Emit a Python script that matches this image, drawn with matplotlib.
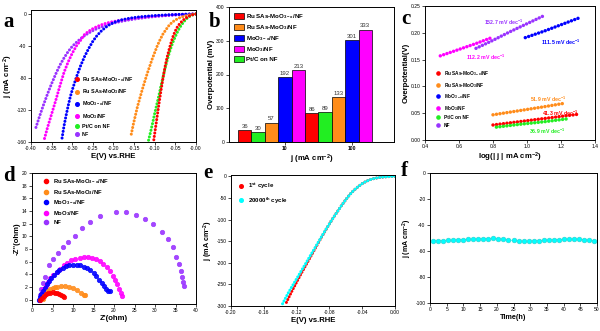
import numpy as np
import matplotlib
matplotlib.use('Agg')
from matplotlib import pyplot as plt
from matplotlib.lines import Line2D

plt.rcParams['font.family'] = ['Liberation Sans', 'DejaVu Sans']
plt.rcParams['mathtext.fontset'] = 'custom'
plt.rcParams['mathtext.rm'] = 'Liberation Sans:bold'
plt.rcParams['mathtext.it'] = 'Liberation Sans:bold'
plt.rcParams['mathtext.bf'] = 'Liberation Sans:bold'
plt.rcParams['mathtext.default'] = 'rm'
plt.rcParams['axes.unicode_minus'] = False

RED, ORANGE, BLUE = '#ff0000', '#ff8c1a', '#0000ff'
MAGENTA, GREEN, PURPLE, CYAN = '#ff00ff', '#22ee22', '#9933ff', '#00ffff'

lab_ru_x = 'Ru SAs-MoO$_{3-x}$/NF'
lab_ru = 'Ru SAs-MoO$_3$/NF'
lab_mo_x = 'MoO$_{3-x}$/NF'
lab_mo = 'MoO$_3$/NF'
lab_pt = 'Pt/C on NF'
lab_nf = 'NF'

# ---- (a) HER polarisation curves : E (V vs RHE), j (mA cm-2)
a_ru_x_E = [0.000, -0.005, -0.010, -0.015, -0.020, -0.025, -0.030, -0.035, -0.040, -0.045, -0.050,
            -0.055, -0.060, -0.065, -0.070, -0.075, -0.080, -0.085, -0.090, -0.095, -0.100, -0.103]
a_ru_x_j = [0, -0.5, -1.2, -2.3, -3.6, -5.2, -7.2, -9.6, -12.5, -16, -21,
            -27, -35, -44, -54, -66, -80, -96, -113, -131, -149, -160]
a_pt_E = [0.000, -0.005, -0.010, -0.015, -0.020, -0.025, -0.030, -0.035, -0.040, -0.045, -0.050, -0.055,
          -0.060, -0.065, -0.070, -0.075, -0.080, -0.085, -0.090, -0.095, -0.100, -0.105, -0.110, -0.116]
a_pt_j = [0, -0.6, -1.5, -2.8, -4.6, -7, -10, -13.5, -17.5, -22.5, -28, -34,
          -41, -49, -58, -68, -79, -90, -102, -113, -124, -136, -147, -160]
a_ru_E = [0.000, -0.010, -0.020, -0.030, -0.040, -0.050, -0.057, -0.065, -0.072, -0.080, -0.087, -0.094,
          -0.100, -0.106, -0.112, -0.118, -0.124, -0.130, -0.136, -0.142, -0.147, -0.152, -0.158]
a_ru_j = [0, -0.6, -1.6, -3.0, -4.8, -7.5, -10, -14, -19, -25, -32, -40,
          -48, -56, -65, -74, -84, -94, -105, -116, -127, -138, -153]
a_mo_x_E = [0.00, -0.02, -0.04, -0.06, -0.08, -0.10, -0.12, -0.14, -0.16, -0.18, -0.19, -0.20, -0.21,
            -0.22, -0.23, -0.24, -0.25, -0.26, -0.27, -0.28, -0.29, -0.30, -0.305, -0.31, -0.315, -0.32, -0.325]
a_mo_x_j = [0, -0.2, -0.5, -0.9, -1.4, -2.0, -2.8, -3.8, -5.2, -7.3, -8.8, -10.8, -13.5,
            -17, -21.5, -27, -34, -43, -53, -65, -79, -95, -104, -115, -127, -140, -156]
a_mo_E = [0.00, -0.02, -0.04, -0.06, -0.08, -0.10, -0.12, -0.14, -0.16, -0.18, -0.20, -0.21, -0.22, -0.23,
          -0.24, -0.25, -0.26, -0.27, -0.28, -0.29, -0.30, -0.31, -0.32, -0.33, -0.34, -0.35, -0.36, -0.368]
a_mo_j = [0, -0.3, -0.7, -1.2, -1.8, -2.6, -3.5, -4.6, -6.0, -7.6, -9.4, -10.5, -11.9, -13.6,
          -15.7, -18.3, -21.5, -25.5, -33, -40, -49, -60, -73, -90, -108, -125, -142, -157]
a_nf_E = [0.00, -0.02, -0.04, -0.06, -0.08, -0.10, -0.12, -0.14, -0.16, -0.18, -0.20, -0.21, -0.22, -0.23,
          -0.24, -0.25, -0.26, -0.27, -0.28, -0.29, -0.30, -0.31, -0.32, -0.33, -0.34, -0.35, -0.36, -0.37,
          -0.38, -0.39]
a_nf_j = [0, -0.4, -0.9, -1.5, -2.3, -3.2, -4.3, -5.6, -7.2, -9.1, -11.4, -12.8, -14.4, -16.2,
          -18.3, -20.8, -23.7, -27, -31, -35.5, -40.5, -47, -55, -64, -75, -87, -100, -114,
          -129, -145]

# ---- (b) overpotentials at 10 and 100 mA cm-2
b_groups = ['10', '100']
b_ru_x = [36, 86]
b_pt = [30, 89]
b_ru = [57, 133]
b_mo_x = [192, 301]
b_mo = [213, 333]

# ---- (c) Tafel plots : log|j|, overpotential (V)
c_ru_x_x = [0.80, 0.90, 1.00, 1.10, 1.20, 1.30]
c_ru_x_y = [0.028, 0.032, 0.036, 0.040, 0.044, 0.048]
c_ru_x = [0.80, 0.90, 1.00, 1.10, 1.21]
c_ru_y = [0.047, 0.052, 0.057, 0.062, 0.068]
c_mo_x_x = [0.99, 1.10, 1.20, 1.30]
c_mo_x_y = [0.191, 0.203, 0.215, 0.227]
c_mo_x = [0.49, 0.60, 0.70, 0.80]
c_mo_y = [0.157, 0.169, 0.180, 0.192]
c_pt_x = [0.82, 0.95, 1.10, 1.25]
c_pt_y = [0.024, 0.029, 0.034, 0.040]
c_nf_x = [0.70, 0.80, 0.90, 1.00, 1.10]
c_nf_y = [0.171, 0.186, 0.202, 0.217, 0.232]
c_slopes = ['41.3', '51.9', '111.5', '112.2', '36.9', '152.7']

# ---- (d) Nyquist plots : Z', -Z'' (ohm)
d_ru_x_re = [2.0, 2.5, 3.0, 3.5, 4.0, 4.5, 5.0, 5.5, 6.0, 6.5, 7.0, 7.5, 7.8]
d_ru_x_im = [0.0, 0.3, 0.6, 0.85, 1.0, 1.1, 1.15, 1.1, 1.05, 0.9, 0.75, 0.55, 0.4]
d_ru_re = [2.6, 3.0, 3.5, 4.0, 4.5, 5.0, 5.5, 6.0, 7.0, 8.0, 9.0, 10.0, 11.0, 12.0, 12.7, 13.0]
d_ru_im = [0.1, 0.5, 0.9, 1.3, 1.6, 1.8, 1.95, 2.05, 2.1, 2.1, 1.95, 1.75, 1.45, 1.1, 0.8, 0.65]
d_mo_x_re = [1.8, 2.0, 2.3, 2.7, 3.1, 3.6, 4.1, 4.7, 5.3, 6.0, 6.7, 7.5, 8.3, 9.1, 10.0, 10.9, 11.8,
             12.6, 13.4, 14.2, 15.0, 15.7, 16.4, 17.0, 17.6, 18.1, 18.6, 19.0]
d_mo_x_im = [0.0, 0.4, 0.9, 1.4, 1.9, 2.4, 2.9, 3.4, 3.9, 4.3, 4.7, 5.0, 5.25, 5.4, 5.5, 5.5, 5.4,
             5.2, 4.95, 4.6, 4.15, 3.65, 3.1, 2.6, 2.1, 1.7, 1.4, 1.3]
d_mo_re = [1.9, 2.1, 2.4, 2.8, 3.3, 3.9, 4.5, 5.2, 6.0, 6.8, 7.7, 8.6, 9.6, 10.6, 11.6, 12.6, 13.6,
           14.6, 15.6, 16.5, 17.4, 18.2, 19.0, 19.7, 20.3, 20.8, 21.3, 21.7, 22.0]
d_mo_im = [0.0, 0.5, 1.0, 1.6, 2.2, 2.8, 3.4, 3.9, 4.4, 4.9, 5.4, 5.8, 6.2, 6.45, 6.6, 6.7, 6.7,
           6.6, 6.4, 6.1, 5.6, 5.1, 4.5, 3.8, 3.1, 2.4, 1.7, 1.1, 0.6]
d_nf_re = [1.8, 2.0, 2.3, 2.7, 3.2, 4.1, 5.1, 6.3, 7.6, 8.8, 10.4, 12.3, 14.2, 16.5, 20.6, 23.0,
           25.4, 27.5, 29.5, 31.7, 33.2, 34.4, 35.2, 35.8, 36.3, 36.7, 36.9, 37.1]
d_nf_im = [0.0, 0.8, 1.6, 2.6, 3.5, 5.5, 6.4, 7.3, 8.3, 9.1, 10.0, 11.3, 12.3, 13.2, 13.8, 13.8,
           13.4, 12.8, 11.9, 10.7, 9.6, 8.3, 6.8, 5.6, 4.5, 3.6, 2.7, 2.1]

# ---- (e) polarisation before / after cycling
e_cyc1_E = [0.000, -0.005, -0.010, -0.015, -0.020, -0.025, -0.030, -0.035, -0.040, -0.045, -0.050,
            -0.055, -0.060, -0.065, -0.070, -0.075, -0.080, -0.085, -0.090, -0.095, -0.100, -0.105,
            -0.110, -0.115, -0.120, -0.125, -0.130, -0.134]
e_cyc1_j = [0, -0.4, -1.0, -1.8, -3.0, -4.8, -7.5, -11.5, -17, -24, -32,
            -42, -54, -67, -81, -95, -110, -126, -142, -159, -176, -193,
            -210, -227, -245, -263, -282, -298]
e_cyc2_E = [0.000, -0.005, -0.010, -0.015, -0.020, -0.025, -0.030, -0.035, -0.040, -0.045, -0.050,
            -0.055, -0.060, -0.065, -0.070, -0.075, -0.080, -0.085, -0.090, -0.095, -0.100, -0.105,
            -0.110, -0.115, -0.120, -0.125, -0.130, -0.135, -0.138]
e_cyc2_j = [0, -0.4, -1.0, -1.8, -3.0, -4.8, -7.5, -11.5, -17, -24, -32,
            -42, -54, -67, -81, -95, -110, -125, -141, -157, -173, -189,
            -205, -221, -237, -253, -269, -287, -298]

# ---- (f) chronoamperometry
f_t = [1, 2.5, 4, 5.5, 7, 8.5, 10, 11.5, 13, 14.5, 16, 17.5, 19, 20.5, 22, 23.5, 25, 26.5,
       28, 29.5, 31, 32.5, 34, 35.5, 37, 38.5, 40, 41.5, 43, 44.5, 46, 47.5, 49]
f_j = [-52.2, -52.1, -52.0, -51.8, -51.6, -51.4, -51.2, -51.0, -50.8, -50.7, -50.6, -50.4, -50.3,
       -50.6, -51.0, -51.5, -51.9, -52.2, -52.5, -52.4, -52.2, -52.0, -51.8, -51.6, -51.4, -51.2,
       -51.0, -50.9, -50.8, -50.9, -51.2, -51.7, -52.2]

TICK = 3.6
LAB = 5.6


def style(ax):
    for s in ax.spines.values():
        s.set_linewidth(0.7)
    ax.tick_params(labelsize=TICK, length=2, width=0.5, pad=1.2, direction='out')


def dots(ax, x, y, color, lw=2.2, gap=1.1):
    # dense measured points drawn as a round-dotted trace
    ax.plot(x, y, color=color, lw=lw, linestyle=(0, (0.01, gap)), dash_capstyle='round')


def dot_handles(colors, labels, ms=2.6):
    return [Line2D([], [], ls='none', marker='o', ms=ms, color=c, label=l)
            for c, l in zip(colors, labels)]


fig = plt.figure(figsize=(6, 3.31), dpi=100)
W, H = 600, 331


def axes_px(left, top, right, bottom):
    return fig.add_axes([left / W, 1 - bottom / H, (right - left) / W, (bottom - top) / H])


ax_a = axes_px(31, 10, 196, 142)
ax_b = axes_px(229, 7, 394, 142)
ax_c = axes_px(425, 6, 595, 140)
ax_d = axes_px(32, 173, 196, 304)
ax_e = axes_px(231, 175, 395, 306)
ax_f = axes_px(430, 173, 597, 303)

# (a)
style(ax_a)
for E, j, c in [(a_nf_E, a_nf_j, PURPLE), (a_mo_E, a_mo_j, MAGENTA), (a_mo_x_E, a_mo_x_j, BLUE),
                (a_ru_E, a_ru_j, ORANGE), (a_pt_E, a_pt_j, GREEN), (a_ru_x_E, a_ru_x_j, RED)]:
    dots(ax_a, E, j, c)
ax_a.set_xlim(-0.40, 0.0)
ax_a.set_ylim(-160, 5)
ax_a.set_xticks(np.arange(-0.40, 0.001, 0.05))
ax_a.set_yticks([0, -40, -80, -120, -160])
ax_a.xaxis.set_major_formatter(plt.FormatStrFormatter('%.2f'))
ax_a.set_xlabel('E(V) vs.RHE', fontsize=LAB, fontweight='bold', labelpad=1)
ax_a.set_ylabel('j (mA cm$^{-2}$)', fontsize=LAB, fontweight='bold', labelpad=1)
ax_a.legend(handles=dot_handles([RED, ORANGE, BLUE, MAGENTA, GREEN, PURPLE],
                                [lab_ru_x, lab_ru, lab_mo_x, lab_mo, lab_pt, lab_nf]),
            loc='lower left', bbox_to_anchor=(0.23, 0.0), frameon=False,
            prop={'size': 3.9, 'weight': 'bold'}, handletextpad=0.5, labelspacing=0.6,
            handlelength=1.0)

# (b)
style(ax_b)
bw = 0.2
xg = np.arange(1, len(b_groups) + 1)
for k, (vals, c, l) in enumerate([(b_ru_x, RED, lab_ru_x), (b_pt, GREEN, lab_pt), (b_ru, ORANGE, lab_ru),
                                  (b_mo_x, BLUE, lab_mo_x), (b_mo, MAGENTA, lab_mo)]):
    bars = ax_b.bar(xg + (k - 3) * bw, vals, bw, color=c, edgecolor='black', lw=0.5, label=l)
    for r, v in zip(bars, vals):
        ax_b.text(r.get_x() + r.get_width() / 2, v + 4, str(v), ha='center', va='bottom',
                  fontsize=4.3, color='#333333')
ax_b.set_xlim(0.164, 2.63)
ax_b.set_ylim(0, 400)
ax_b.set_xticks(xg)
ax_b.set_xticklabels(b_groups, fontweight='bold')
ax_b.set_yticks([0, 100, 200, 300, 400])
ax_b.set_xlabel('j (mA cm$^{-2}$)', fontsize=LAB, fontweight='bold', labelpad=1)
ax_b.set_ylabel('Overpotential (mV)', fontsize=LAB, fontweight='bold', labelpad=1)
hb, lb = ax_b.get_legend_handles_labels()
order = [0, 2, 3, 4, 1]
ax_b.legend([hb[i] for i in order], [lb[i] for i in order], loc='upper left', frameon=False,
            prop={'size': 4.4, 'weight': 'bold'}, handlelength=1.6, handleheight=1.1,
            handletextpad=0.4, labelspacing=0.35, borderaxespad=0.4)

# (c)
style(ax_c)
c_series = [(c_ru_x_x, c_ru_x_y, RED), (c_ru_x, c_ru_y, ORANGE), (c_mo_x_x, c_mo_x_y, BLUE),
            (c_mo_x, c_mo_y, MAGENTA), (c_pt_x, c_pt_y, GREEN), (c_nf_x, c_nf_y, PURPLE)]
for x, y, c in c_series:
    dots(ax_c, x, y, c, lw=2.5, gap=1.0)
slope_pos = [(1.09, 0.050), (1.02, 0.076), (1.08, 0.183), (0.64, 0.154), (1.01, 0.0155), (0.75, 0.219)]
for (x, y), s, (_, _, c) in zip(slope_pos, c_slopes, c_series):
    ax_c.text(x, y, s + ' mV dec$^{-1}$', fontsize=3.8, color=c, fontweight='bold', va='center')
ax_c.set_xlim(0.4, 1.4)
ax_c.set_ylim(0, 0.25)
ax_c.set_xticks([0.4, 0.6, 0.8, 1.0, 1.2, 1.4])
ax_c.set_yticks([0, 0.05, 0.10, 0.15, 0.20, 0.25])
ax_c.xaxis.set_major_formatter(plt.FormatStrFormatter('%.1f'))
ax_c.yaxis.set_major_formatter(plt.FormatStrFormatter('%.2f'))
ax_c.set_xlabel('log(| j | mA cm$^{-2}$)', fontsize=LAB, fontweight='bold', labelpad=1)
ax_c.set_ylabel('Overpotential(V)', fontsize=LAB, fontweight='bold', labelpad=1)
ax_c.legend(handles=dot_handles([RED, ORANGE, BLUE, MAGENTA, GREEN, PURPLE],
                                [lab_ru_x, lab_ru, lab_mo_x, lab_mo, lab_pt, lab_nf], ms=2.3),
            loc='lower left', bbox_to_anchor=(0.04, 0.06), frameon=False,
            prop={'size': 3.4, 'weight': 'bold'}, handletextpad=0.6, labelspacing=0.55,
            handlelength=1.0)

# (d)
style(ax_d)
for re, im, c in [(d_nf_re, d_nf_im, PURPLE), (d_mo_re, d_mo_im, MAGENTA), (d_mo_x_re, d_mo_x_im, BLUE),
                  (d_ru_re, d_ru_im, ORANGE), (d_ru_x_re, d_ru_x_im, RED)]:
    ax_d.plot(re, im, ls='none', marker='o', ms=3.2, mfc=c, mec=c, mew=0.5, alpha=0.9)
ax_d.set_xlim(0, 40)
ax_d.set_ylim(-0.7, 20)
ax_d.set_xticks(np.arange(0, 41, 5))
ax_d.set_yticks(np.arange(0, 21, 2))
ax_d.set_xlabel("Z'(ohm)", fontsize=LAB, fontweight='bold', labelpad=1)
ax_d.set_ylabel("-Z''(ohm)", fontsize=LAB, fontweight='bold', labelpad=1)
ax_d.legend(handles=dot_handles([RED, ORANGE, BLUE, MAGENTA, PURPLE],
                                [lab_ru_x, lab_ru, lab_mo_x, lab_mo, lab_nf], ms=3.0),
            loc='upper left', frameon=False, prop={'size': 4.2, 'weight': 'bold'},
            handletextpad=0.6, labelspacing=0.3, handlelength=1.2, borderaxespad=0.3,
            bbox_to_anchor=(0.04, 1.0))

# (e)
style(ax_e)
dots(ax_e, e_cyc1_E, e_cyc1_j, RED, gap=1.0)
dots(ax_e, e_cyc2_E, e_cyc2_j, CYAN, gap=1.0)
ax_e.set_xlim(-0.20, 0.0)
ax_e.set_ylim(-300, 3)
ax_e.set_xticks([-0.20, -0.16, -0.12, -0.08, -0.04, 0.0])
ax_e.set_yticks(np.arange(0, -301, -50))
ax_e.xaxis.set_major_formatter(plt.FormatStrFormatter('%.2f'))
ax_e.set_xlabel('E(V) vs.RHE', fontsize=LAB, fontweight='bold', labelpad=1)
ax_e.set_ylabel('j (mA cm$^{-2}$)', fontsize=LAB - 0.4, fontweight='bold', labelpad=1)
ax_e.legend(handles=dot_handles([RED, CYAN], ['1$^{st}$ cycle', '20000$^{th}$ cycle']),
            loc='upper left', frameon=False, prop={'size': 4.4, 'weight': 'bold'},
            handletextpad=0.5, labelspacing=0.7, handlelength=1.2, borderaxespad=0.6)

# (f)
style(ax_f)
ax_f.plot(f_t, f_j, color=CYAN, lw=0.5, marker='o', ms=3.4, mfc=CYAN, mec='#33cccc', mew=0.4)
ax_f.set_xlim(0, 50)
ax_f.set_ylim(-100, 0)
ax_f.set_xticks(np.arange(0, 51, 5))
ax_f.set_yticks(np.arange(0, -101, -20))
ax_f.set_xlabel('Time(h)', fontsize=LAB - 0.4, fontweight='bold', labelpad=1)
ax_f.set_ylabel('j (mA cm$^{-2}$)', fontsize=LAB - 0.6, fontweight='bold', labelpad=1)

# panel letters
for x, y, s in [(3, 27, 'a'), (209, 27, 'b'), (401, 24, 'c'), (3, 181, 'd'), (203, 178, 'e'), (401, 176, 'f')]:
    fig.text(x / W, 1 - y / H, s, fontsize=15, fontweight='bold', family='Liberation Serif', va='baseline')

fig.savefig('out.png', dpi=100)
